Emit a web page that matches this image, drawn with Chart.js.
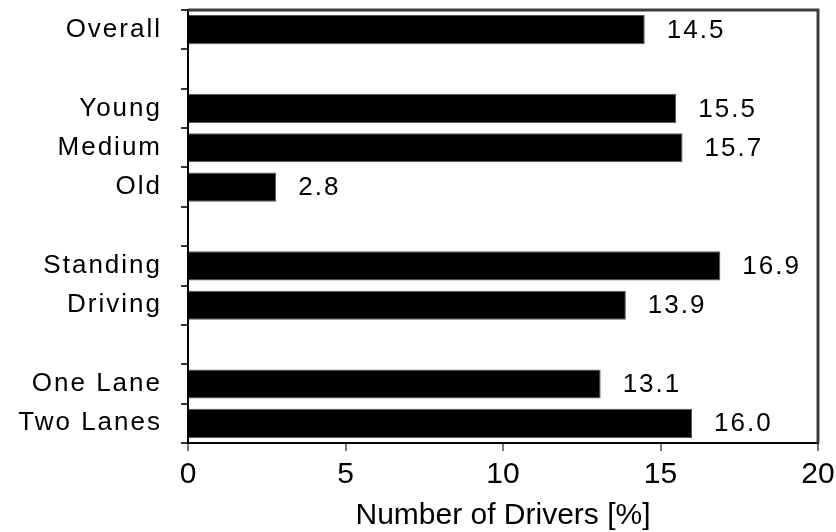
<!DOCTYPE html>
<html>
<head>
<meta charset="utf-8">
<script src="https://cdn.jsdelivr.net/npm/chart.js@4/dist/chart.umd.min.js"></script>
<style>
  html, body { margin: 0; padding: 0; background: #fff; }
  #wrap { width: 836px; height: 532px; }
</style>
</head>
<body>
<div id="wrap"><canvas id="driversChart" width="836" height="532"></canvas></div>
<script>
// data (empty labels are the gaps between groups)
const categories = ['Overall', '', 'Young', 'Medium', 'Old', '', 'Standing', 'Driving', '', 'One Lane', 'Two Lanes'];
const driverShare = [14.5, null, 15.5, 15.7, 2.8, null, 16.9, 13.9, null, 13.1, 16.0];
const xTicks = [0, 5, 10, 15, 20];

const FONT = '"Liberation Sans", Arial, sans-serif';

// frame on top/right + value labels, letter spacing for the wide bitmap-ish text
const extras = {
    id: 'extras',
    beforeDraw(chart) {
        chart.ctx.letterSpacing = '0px';
    },
    afterDatasetsDraw(chart) {
        const ctx = chart.ctx;
        const area = chart.chartArea;

        ctx.save();
        ctx.strokeStyle = '#3c3c3c';
        ctx.lineWidth = 3;
        ctx.beginPath();
        ctx.moveTo(area.left, area.top);
        ctx.lineTo(area.right, area.top);
        ctx.lineTo(area.right, area.bottom);
        ctx.stroke();
        ctx.restore();

        // stays set so the y labels (drawn after datasets) get it too
        ctx.letterSpacing = '2px';

        ctx.save();
        ctx.font = '26px ' + FONT;
        ctx.fillStyle = '#000';
        ctx.textAlign = 'left';
        ctx.textBaseline = 'middle';
        const meta = chart.getDatasetMeta(0);
        meta.data.forEach((bar, i) => {
            const v = driverShare[i];
            if (v === null) return;
            ctx.fillText(v.toFixed(1), bar.x + 22, bar.y + 1);
        });
        ctx.restore();
    }
};

const ctx = document.getElementById('driversChart');
const driversChart = new Chart(ctx, {
    type: 'bar',
    data: {
        labels: categories,
        datasets: [{
            data: driverShare,
            backgroundColor: '#000',
            borderColor: '#555',
            borderWidth: 1,
            barPercentage: 0.74,
            categoryPercentage: 1
        }]
    },
    options: {
        indexAxis: 'y',
        responsive: false,
        animation: false,
        layout: { padding: { left: 0, right: 18, top: 10, bottom: 0 } },
        plugins: {
            legend: { display: false },
            tooltip: { enabled: false }
        },
        scales: {
            x: {
                type: 'linear',
                min: 0,
                max: 20,
                afterBuildTicks: s => { s.ticks = xTicks.map(v => ({ value: v })); },
                border: { display: true, color: '#000', width: 2 },
                grid: { drawOnChartArea: false, drawTicks: true, tickLength: 8, color: '#777', lineWidth: 2 },
                ticks: { color: '#000', font: { family: FONT, size: 30 }, padding: 6 },
                title: {
                    display: true,
                    text: 'Number of Drivers [%]',
                    color: '#000',
                    font: { family: FONT, size: 30, lineHeight: 1 },
                    padding: { top: 0, bottom: 1 }
                },
                afterFit: s => {
                    s.height = 89;
                    s.paddingLeft = 0;
                    s.paddingRight = 0;
                }
            },
            y: {
                type: 'category',
                offset: true,
                border: { display: true, color: '#000', width: 2 },
                grid: { offset: true, drawOnChartArea: false, drawTicks: true, tickLength: 7, color: '#333', lineWidth: 2 },
                ticks: { color: '#000', font: { family: FONT, size: 26 }, padding: 19, autoSkip: false, z: 1 },
                afterFit: s => {
                    s.width = 188;
                    s.paddingTop = 0;
                    s.paddingBottom = 0;
                }
            }
        }
    },
    plugins: [extras]
});
</script>
</body>
</html>
